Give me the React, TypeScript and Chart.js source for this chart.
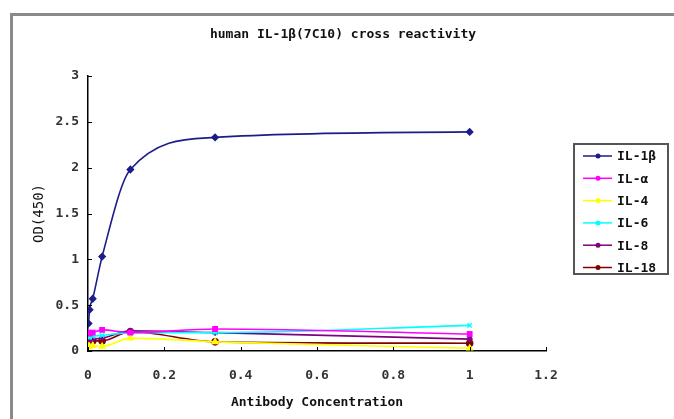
import React, { useEffect, useRef } from "react";
import { Chart, registerables } from "chart.js";

Chart.register(...registerables);

const chartTitle = "human IL-1β(7C10) cross reactivity";
const xTitle = "Antibody Concentration";
const yTitle = "OD(450)";

const concentrations = [0.0014, 0.0041, 0.0123, 0.037, 0.111, 0.333, 1];
const il1b = [0.3, 0.45, 0.57, 1.03, 1.98, 2.33, 2.39];
const ilA = [0.2, 0.19, 0.2, 0.23, 0.2, 0.24, 0.185];
const il4 = [0.05, 0.05, 0.06, 0.05, 0.14, 0.1, 0.03];
const il6 = [0.15, 0.15, 0.16, 0.17, 0.2, 0.2, 0.28];
const il8 = [0.12, 0.12, 0.13, 0.14, 0.22, 0.2, 0.13];
const il18 = [0.1, 0.1, 0.11, 0.11, 0.21, 0.1, 0.085];

const seriesNames = ["IL-1β", "IL-α", "IL-4", "IL-6", "IL-8", "IL-18"];
const seriesValues = [il1b, ilA, il4, il6, il8, il18];
const seriesColors = ["#1c1c8a", "#ff00ff", "#ffff00", "#00ffff", "#800080", "#800000"];
const seriesMarkers = ["rectRot", "rect", "triangle", "crossRot", "star", "circle"];

const yTickValues = [0, 0.5, 1, 1.5, 2, 2.5, 3];
const xTickValues = [0, 0.2, 0.4, 0.6, 0.8, 1, 1.2];

const FONT = "'DejaVu Sans Mono', monospace";

const decorPlugin = {
  id: "decor",
  beforeDraw(chart: any) {
    const ctx = chart.ctx;
    ctx.save();
    ctx.fillStyle = "#ffffff";
    ctx.fillRect(0, 0, chart.width, chart.height);
    ctx.strokeStyle = "#8a8a8a";
    ctx.lineWidth = 3;
    ctx.strokeRect(11.5, 14.5, 720, 520);
    ctx.restore();
  },
  afterDraw(chart: any) {
    const ctx = chart.ctx;
    const xs = chart.scales.x;
    const ys = chart.scales.y;
    ctx.save();
    ctx.strokeStyle = "#000";
    ctx.lineWidth = 1;
    xTickValues.forEach((v) => {
      const px = Math.round(xs.getPixelForValue(v)) + 0.5;
      ctx.beginPath();
      ctx.moveTo(px, ys.bottom);
      ctx.lineTo(px, ys.bottom - 4);
      ctx.stroke();
    });
    yTickValues.forEach((v) => {
      const py = Math.round(ys.getPixelForValue(v)) + 0.5;
      ctx.beginPath();
      ctx.moveTo(xs.left, py);
      ctx.lineTo(xs.left + 4, py);
      ctx.stroke();
    });
    ctx.fillStyle = "#111";
    ctx.font = `bold 13px ${FONT}`;
    ctx.textAlign = "center";
    ctx.textBaseline = "middle";
    ctx.fillText(chartTitle, 343, 35);
    const lx = 574, ly = 144, lw = 94, lh = 130;
    ctx.strokeStyle = "#555";
    ctx.lineWidth = 2;
    ctx.strokeRect(lx, ly, lw, lh);
    chart.data.datasets.forEach((ds: any, i: number) => {
      const y = 156 + i * 22.3;
      ctx.strokeStyle = ds.borderColor;
      ctx.lineWidth = 1.5;
      ctx.beginPath();
      ctx.moveTo(583, y);
      ctx.lineTo(612, y);
      ctx.stroke();
      ctx.fillStyle = ds.borderColor;
      ctx.beginPath();
      ctx.arc(598, y, 2.5, 0, Math.PI * 2);
      ctx.fill();
      ctx.fillStyle = "#111";
      ctx.font = `bold 13px ${FONT}`;
      ctx.textAlign = "left";
      ctx.fillText(ds.label, 617, y + 1);
    });
    ctx.restore();
  },
};

export default function App() {
  const ref = useRef<HTMLCanvasElement | null>(null);
  useEffect(() => {
    if (!ref.current) return;
    const chart = new Chart(ref.current, {
      type: "line",
      data: {
        datasets: seriesNames.map((name, i) => ({
          label: name,
          data: concentrations.map((c, j) => ({ x: c, y: seriesValues[i][j] })),
          borderColor: seriesColors[i],
          backgroundColor: seriesColors[i],
          pointBackgroundColor: seriesColors[i],
          pointBorderColor: seriesColors[i],
          pointStyle: seriesMarkers[i] as any,
          pointRadius: 3,
          borderWidth: 1.6,
          cubicInterpolationMode: "monotone" as const,
          fill: false,
        })),
      },
      options: {
        responsive: false,
        animation: false,
        layout: { padding: { left: 0, top: 76, right: 128, bottom: 0 } },
        plugins: { legend: { display: false }, tooltip: { enabled: false }, title: { display: false } },
        scales: {
          x: {
            type: "linear",
            min: 0,
            max: 1.2,
            afterFit: (s: any) => { s.height = 68; },
            afterBuildTicks: (s: any) => { s.ticks = xTickValues.map((v) => ({ value: v })); },
            grid: { display: false, drawTicks: false },
            border: { display: true, color: "#000", width: 1.5 },
            ticks: {
              padding: 17,
              color: "#333",
              font: { family: FONT, size: 13, weight: "bold" },
              maxRotation: 0,
              callback: (v: any) => String(Number(Number(v).toFixed(1))),
            },
            title: {
              display: true,
              text: xTitle,
              color: "#111",
              font: { family: FONT, size: 13, weight: "bold" },
              padding: { top: 0, bottom: 9 },
            },
          },
          y: {
            type: "linear",
            min: 0,
            max: 3,
            afterFit: (s: any) => { s.width = 88; },
            afterBuildTicks: (s: any) => { s.ticks = yTickValues.map((v) => ({ value: v })); },
            grid: { display: false, drawTicks: false },
            border: { display: true, color: "#000", width: 1.5 },
            ticks: {
              padding: 9,
              color: "#333",
              font: { family: FONT, size: 13, weight: "bold" },
              callback: (v: any) => String(Number(Number(v).toFixed(1))),
            },
            title: {
              display: true,
              text: yTitle,
              color: "#111",
              font: { family: FONT, size: 14 },
              padding: { top: 31, bottom: 0 },
            },
          },
        },
      },
      plugins: [decorPlugin],
    });
    return () => chart.destroy();
  }, []);
  return (
    <div style={{ position: "fixed", left: 0, top: 0, width: 674, height: 419, background: "#fff" }}>
      <canvas ref={ref} width={674} height={419} style={{ width: 674, height: 419, display: "block" }} />
    </div>
  );
}
